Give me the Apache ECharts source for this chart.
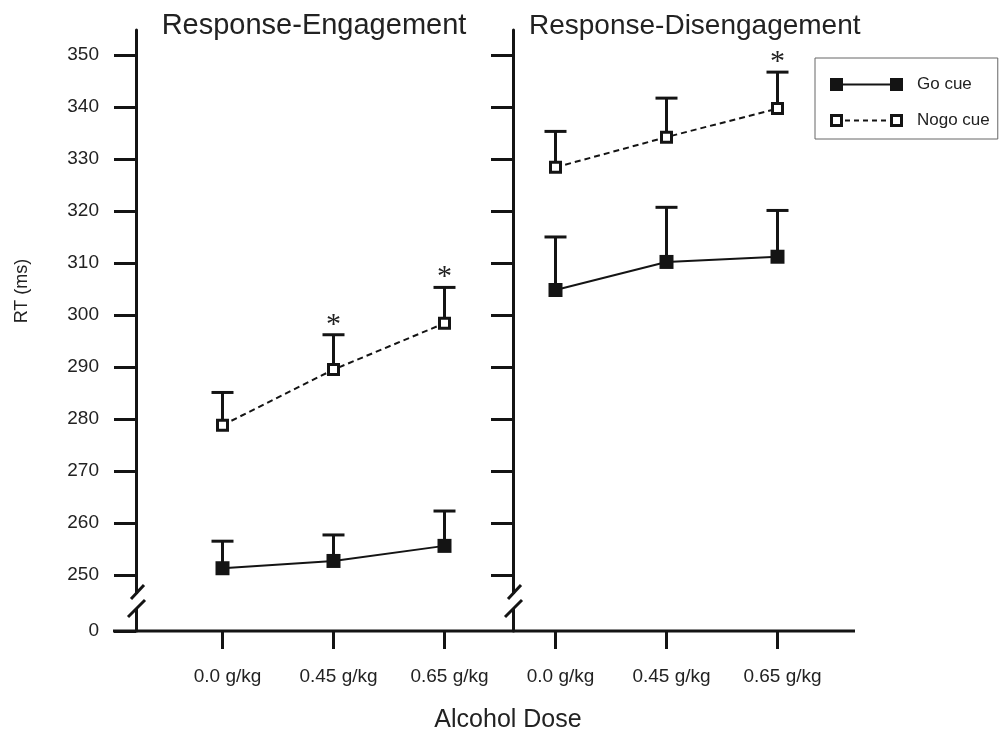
<!DOCTYPE html>
<html>
<head>
<meta charset="utf-8">
<script src="https://cdn.jsdelivr.net/npm/echarts@6/dist/echarts.min.js"></script>
<style>
html,body{margin:0;padding:0;background:#fff;}
#chart{width:1006px;height:734px;}
</style>
</head>
<body>
<div id="chart"></div>
<script>
// ---------- data ----------
const doses = ['0.0 g/kg', '0.45 g/kg', '0.65 g/kg'];
const panelTitles = ['Response-Engagement', 'Response-Disengagement'];
const seriesNames = ['Go cue', 'Nogo cue'];
const yTickValues = [250, 260, 270, 280, 290, 300, 310, 320, 330, 340, 350];
const yBreakLabel = '0';
const yAxisName = 'RT (ms)';
const xAxisName = 'Alcohol Dose';

const engGo = [251.3, 252.7, 255.6];
const engGoSE = [5.2, 5.0, 6.7];
const engNogo = [278.8, 289.5, 298.4];
const engNogoSE = [6.3, 6.7, 6.9];
const engNogoSig = [0, 1, 1];

const disGo = [304.8, 310.2, 311.2];
const disGoSE = [10.2, 10.5, 8.9];
const disNogo = [328.4, 334.2, 339.7];
const disNogoSE = [6.9, 7.5, 7.0];
const disNogoSig = [0, 0, 1];

// ---------- layout ----------
const Y_MIN = 239.23;   // value placed where the broken axis shows "0"
const Y_MAX = 354.8;
const GRID_TOP = 30, GRID_H = 601;
const BASE_Y = GRID_TOP + GRID_H;
const AXIS_X = [136, 513];
const GRID_LEFT = [167, 500];
const GRID_W = 333;
const INK = '#141414';
const FONT = '"Liberation Sans", Arial, Helvetica, sans-serif';

const GO_ICON = 'path://M0,0h13v13h-13z M13,5.5h47v2h-47z M60,0h13v13h-13z';
const NOGO_ICON = 'path://M0,0h13v13h-13z M3,3v7h7v-7z M60,0h13v13h-13z M63,3v7h7v-7z ' +
  'M15,5.5h5v2h-5z M24,5.5h5v2h-5z M33,5.5h5v2h-5z M42,5.5h5v2h-5z M51,5.5h5v2h-5z';

function errRows(means, se, sig) {
  return means.map((m, i) => [i, m, se[i], sig ? sig[i] : 0]);
}

function renderErr(params, api) {
  const x = api.value(0), m = api.value(1), se = api.value(2), sig = api.value(3);
  const p0 = api.coord([x, m]);
  const p1 = api.coord([x, m + se]);
  const children = [
    {type: 'line', shape: {x1: p0[0], y1: p0[1], x2: p1[0], y2: p1[1]}, style: {stroke: INK, lineWidth: 3}},
    {type: 'line', shape: {x1: p1[0] - 11, y1: p1[1], x2: p1[0] + 11, y2: p1[1]}, style: {stroke: INK, lineWidth: 3}}
  ];
  if (sig) {
    children.push({type: 'text', x: p1[0], y: p1[1] + 5,
      style: {text: '*', fill: '#222', font: '30px "Liberation Serif", "DejaVu Serif", serif', align: 'center', verticalAlign: 'bottom'}});
  }
  return {type: 'group', children: children};
}

function yAxisFor(i) {
  return {
    type: 'value', gridIndex: i, min: Y_MIN, max: Y_MAX,
    offset: GRID_LEFT[i] - AXIS_X[i],
    splitLine: {show: false},
    axisLine: {show: true, lineStyle: {color: INK, width: 3}},
    axisTick: {show: true, length: 22, lineStyle: {color: INK, width: 3},
      customValues: i === 0 ? [Y_MIN].concat(yTickValues) : yTickValues},
    axisLabel: {show: i === 0, customValues: [Y_MIN].concat(yTickValues), margin: 37,
      fontSize: 19, color: '#222', fontFamily: FONT,
      formatter: v => (v < yTickValues[0] ? yBreakLabel : String(v))}
  };
}

function xAxisFor(i) {
  return {
    type: 'category', gridIndex: i, data: doses, boundaryGap: true,
    axisLine: {show: false},
    axisTick: {show: true, alignWithLabel: true, length: 18, lineStyle: {color: INK, width: 3}},
    axisLabel: {fontSize: 19, color: '#222', margin: 36, fontFamily: FONT, padding: [0, 0, 0, 10]}
  };
}

const panels = [
  {go: engGo, goSE: engGoSE, nogo: engNogo, nogoSE: engNogoSE, sig: engNogoSig},
  {go: disGo, goSE: disGoSE, nogo: disNogo, nogoSE: disNogoSE, sig: disNogoSig}
];

const series = [];
panels.forEach((p, i) => {
  series.push({type: 'custom', name: 'err-go-' + i, xAxisIndex: i, yAxisIndex: i, z: 1,
    renderItem: renderErr, data: errRows(p.go, p.goSE, null), encode: {x: 0, y: 1}, silent: true});
  series.push({type: 'custom', name: 'err-nogo-' + i, xAxisIndex: i, yAxisIndex: i, z: 1,
    renderItem: renderErr, data: errRows(p.nogo, p.nogoSE, p.sig), encode: {x: 0, y: 1}, silent: true});
  series.push({type: 'line', name: seriesNames[0], xAxisIndex: i, yAxisIndex: i, z: 3, data: p.go,
    symbol: 'rect', symbolSize: 14, lineStyle: {color: INK, width: 2, type: 'solid'},
    itemStyle: {color: INK, borderWidth: 0}});
  series.push({type: 'line', name: seriesNames[1], xAxisIndex: i, yAxisIndex: i, z: 3, data: p.nogo,
    symbol: 'rect', symbolSize: 10, lineStyle: {color: INK, width: 2, type: [6, 4]},
    itemStyle: {color: '#fff', borderColor: INK, borderWidth: 3}});
});

// axis-break decoration and shared baseline
const graphics = [
  {type: 'line', z: 50, shape: {x1: 113, y1: BASE_Y, x2: 855, y2: BASE_Y}, style: {stroke: INK, lineWidth: 3}},
  {type: 'text', z: 50, x: 22, y: 291, rotation: Math.PI / 2,
    style: {text: yAxisName, fill: '#222', font: '18px ' + FONT, align: 'center', verticalAlign: 'middle'}}
];
AXIS_X.forEach(ax => {
  graphics.push({type: 'rect', z: 50, shape: {x: ax - 4, y: 594, width: 8, height: 15}, style: {fill: '#fff'}});
  graphics.push({type: 'line', z: 51, shape: {x1: ax - 5, y1: 599, x2: ax + 8, y2: 585}, style: {stroke: INK, lineWidth: 3}});
  graphics.push({type: 'line', z: 51, shape: {x1: ax - 8, y1: 617, x2: ax + 9, y2: 600}, style: {stroke: INK, lineWidth: 3}});
});

const chart = echarts.init(document.getElementById('chart'), null, {renderer: 'canvas'});
chart.setOption({
  animation: false,
  backgroundColor: '#fff',
  textStyle: {fontFamily: FONT},
  title: [
    {text: panelTitles[0], left: 314, top: 11, textAlign: 'center', padding: 0,
      textStyle: {fontSize: 29, fontWeight: 'normal', color: '#222', fontFamily: FONT}},
    {text: panelTitles[1], left: 529, top: 12, textAlign: 'left', padding: 0,
      textStyle: {fontSize: 28, fontWeight: 'normal', color: '#222', fontFamily: FONT}},
    {text: xAxisName, left: 508, top: 708, textAlign: 'center', padding: 0,
      textStyle: {fontSize: 25, fontWeight: 'normal', color: '#222', fontFamily: FONT}}
  ],
  legend: {
    orient: 'vertical', left: 815, top: 58,
    padding: [18, 8, 10, 15],
    borderColor: '#666', borderWidth: 1,
    itemWidth: 73, itemHeight: 13, itemGap: 19,
    selectedMode: false,
    textStyle: {fontSize: 17, color: '#222', fontFamily: FONT, lineHeight: 13, padding: [0, 0, 0, 9]},
    data: [
      {name: seriesNames[0], icon: GO_ICON, itemStyle: {color: INK, borderWidth: 0}},
      {name: seriesNames[1], icon: NOGO_ICON, itemStyle: {color: INK, borderWidth: 0}}
    ]
  },
  grid: [
    {left: GRID_LEFT[0], top: GRID_TOP, width: GRID_W, height: GRID_H},
    {left: GRID_LEFT[1], top: GRID_TOP, width: GRID_W, height: GRID_H}
  ],
  xAxis: [xAxisFor(0), xAxisFor(1)],
  yAxis: [yAxisFor(0), yAxisFor(1)],
  graphic: graphics,
  series: series
});
</script>
</body>
</html>
